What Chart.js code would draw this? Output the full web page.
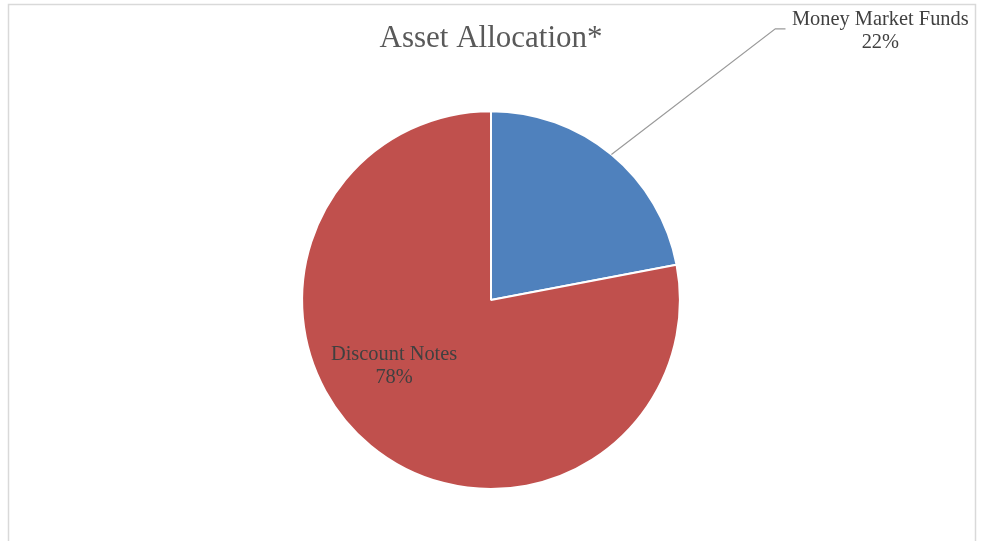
<!DOCTYPE html>
<html>
<head>
<meta charset="utf-8">
<script src="https://cdn.jsdelivr.net/npm/chart.js@4"></script>
<style>
  body { margin: 0; background: #fff; }
  #wrap { width: 984px; height: 541px; position: relative; }
</style>
</head>
<body>
<div id="wrap"><canvas id="allocChart"></canvas></div>
<script>
const categories = ['Money Market Funds', 'Discount Notes'];
const shares = [22, 78];
const sliceColors = ['#4f81bd', '#c0504d'];

// where each data label sits, in pie radii from the centre (x, first baseline y)
const labelSpots = [
    { dx: 2.061, dy: -1.457, leader: [1.505, -1.436, 1.559] },
    { dx: -0.513, dy: 0.319, leader: null }
];

const serif = "'Liberation Serif', 'Times New Roman', serif";

const frame = {
    id: 'frame',
    beforeDraw(chart) {
        const c = chart.ctx;
        c.save();
        c.strokeStyle = '#d9d9d9';
        c.lineWidth = 1.5;
        c.strokeRect(8.5, 4.5, 967, 600);
        c.restore();
    }
};

const sliceLabels = {
    id: 'sliceLabels',
    afterDatasetsDraw(chart) {
        const c = chart.ctx;
        const arcs = chart.getDatasetMeta(0).data;
        c.save();
        c.font = '20.4px ' + serif;
        c.fillStyle = '#404040';
        c.textAlign = 'center';
        c.textBaseline = 'alphabetic';
        arcs.forEach((arc, i) => {
            const r = arc.outerRadius;
            const spot = labelSpots[i];
            const lx = arc.x + spot.dx * r;
            const ly = arc.y + spot.dy * r;
            c.fillText(categories[i], lx, ly);
            c.fillText(shares[i] + '%', lx, ly + 23);
            if (spot.leader) {
                const mid = (arc.startAngle + arc.endAngle) / 2;
                c.beginPath();
                c.strokeStyle = '#9a9a9a';
                c.lineWidth = 1.2;
                c.moveTo(arc.x + Math.cos(mid) * r, arc.y + Math.sin(mid) * r);
                c.lineTo(arc.x + spot.leader[0] * r, arc.y + spot.leader[1] * r);
                c.lineTo(arc.x + spot.leader[2] * r, arc.y + spot.leader[1] * r);
                c.stroke();
            }
        });
        c.restore();
    }
};

var ctx = document.getElementById('allocChart').getContext('2d');

var allocChart = new Chart(ctx, {
    type: 'pie',
    data: {
        labels: categories,
        datasets: [{
            data: shares,
            backgroundColor: sliceColors,
            borderColor: '#ffffff',
            borderWidth: 2
        }]
    },
    options: {
        responsive: true,
        maintainAspectRatio: false,
        animation: false,
        layout: { padding: { left: 0, right: 2, top: 0, bottom: 51 } },
        plugins: {
            legend: { display: false },
            tooltip: { enabled: false },
            title: {
                display: true,
                text: 'Asset Allocation*',
                color: '#595959',
                font: { family: serif, size: 31, weight: 'normal', lineHeight: 1.2 },
                padding: { top: 20, bottom: 53 }
            }
        }
    },
    plugins: [frame, sliceLabels]
});
</script>
</body>
</html>
